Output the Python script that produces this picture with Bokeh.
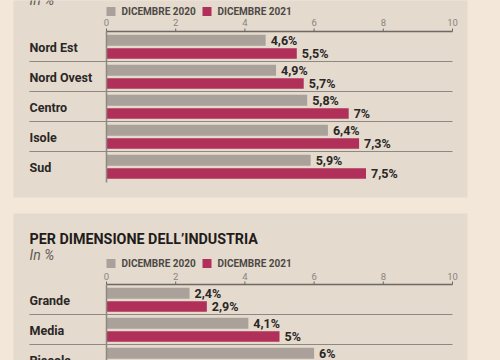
from bokeh.plotting import figure
from bokeh.embed import file_html
from bokeh.resources import INLINE
from bokeh.core.properties import value
from bokeh.models import Range1d

# ---------------- data ----------------
regions = ["Nord Est", "Nord Ovest", "Centro", "Isole", "Sud"]
regions_2020 = [4.6, 4.9, 5.8, 6.4, 5.9]
regions_2021 = [5.5, 5.7, 7.0, 7.3, 7.5]
sizes = ["Grande", "Media", "Piccola"]
sizes_2020 = [2.4, 4.1, 6.0]
sizes_2021 = [2.9, 5.0]          # Piccola 2021 is cut off in the picture
ticks = [0, 2, 4, 6, 8, 10]
series = ["DICEMBRE 2020", "DICEMBRE 2021"]
title2 = "PER DIMENSIONE DELL\u2019INDUSTRIA"
unit = "In %"

# ---------------- style / layout ----------------
PAGE = "#f2e7d9"
PANEL = "#e4dacd"
GRAY = "#aaa29a"
RED = "#b0305a"
DARK = "#2a2726"
FONT = value("Roboto")

W, H = 500, 360
OFF = 0
PX0, PXU = 106.0, 34.6


def X(sx):
    return (sx - PX0) / PXU


p = figure(width=W, height=H, output_backend="svg", toolbar_location=None,
           x_range=Range1d(X(OFF), X(OFF + W)), y_range=Range1d(OFF + H, OFF),
           x_axis_type=None, y_axis_type=None, min_border=0,
           background_fill_color=PAGE, border_fill_color=PAGE,
           outline_line_color=None)
p.grid.visible = False

# panels
p.quad(left=[X(13), X(13)], right=[X(467), X(467)], top=[-50, 213],
       bottom=[197, 500], fill_color=PANEL, line_color=None)


def fmt(v):
    return f"{v:g}".replace(".", ",") + "%"


def panel(axis_y, legend_y, tick_y, cats, v20, v21, vline_end):
    # legend
    p.rect(x=[X(110.5), X(206.5)], y=[legend_y, legend_y], width=9, height=9,
           width_units="screen", height_units="screen",
           fill_color=[GRAY, RED], line_color=None)
    p.text(x=[X(121), X(217)], y=[legend_y, legend_y], text=series,
           text_font=FONT, text_font_size="10px", text_font_style="bold",
           text_color="#4d4946", text_baseline="middle", text_align="left")
    # ticks
    p.text(x=ticks, y=[tick_y] * len(ticks), text=[str(t) for t in ticks],
           text_font=FONT, text_font_size="9.5px", text_color="#8a8580",
           text_baseline="middle", text_align="center")
    p.segment(x0=ticks, x1=ticks, y0=[axis_y - 3] * len(ticks),
              y1=[axis_y] * len(ticks), line_color="#6e6964", line_width=1)
    p.segment(x0=[ticks[0]], x1=[ticks[-1]], y0=[axis_y], y1=[axis_y],
              line_color="#6e6964", line_width=1.5)
    # rows
    n = len(cats)
    starts = [axis_y + 30 * i for i in range(n)]
    y20 = [s + 8.7 for s in starts]
    y21 = [s + 22 for s in starts[:len(v21)]]
    p.hbar(y=y20, left=0, right=v20, height=11, fill_color=GRAY, line_color=None)
    p.hbar(y=y21, left=0, right=v21, height=10.5, fill_color=RED, line_color=None)
    seps = [s + 30 for s in starts[:-1]]
    p.segment(x0=[X(29)] * len(seps), x1=[ticks[-1]] * len(seps), y0=seps, y1=seps,
              line_color="#8e8883", line_width=1)
    p.segment(x0=[0], x1=[0], y0=[axis_y], y1=[vline_end],
              line_color="#8e8883", line_width=1.5)
    p.text(x=[X(29)] * n, y=[s + 15.5 for s in starts], text=cats,
           text_font=FONT, text_font_size="12.5px", text_font_style="bold",
           text_color=DARK, text_baseline="middle", text_align="left")
    off = 5 / PXU
    p.text(x=[v + off for v in v20], y=y20, text=[fmt(v) for v in v20],
           text_font=FONT, text_font_size="12.5px", text_font_style="bold",
           text_color=DARK, text_baseline="middle", text_align="left")
    p.text(x=[v + off for v in v21], y=y21, text=[fmt(v) for v in v21],
           text_font=FONT, text_font_size="12.5px", text_font_style="bold",
           text_color=DARK, text_baseline="middle", text_align="left")


# first panel ("In %" subtitle is cut at the top, as in the reference)
p.text(x=[X(29)], y=[-1], text=[unit], text_font=FONT, text_font_size="14px",
       text_font_style="italic", text_color="#5f5a56", text_baseline="middle")
panel(31, 11, 22, regions, regions_2020, regions_2021, 182)

# second panel header
p.text(x=[X(29)], y=[238], text=[title2], text_font=FONT, text_font_size="14.3px",
       text_font_style="bold", text_color="#1f1c1b", text_baseline="middle")
p.text(x=[X(29)], y=[254], text=[unit], text_font=FONT, text_font_size="14px",
       text_font_style="italic", text_color="#5f5a56", text_baseline="middle")
panel(284, 263, 276, sizes, sizes_2020, sizes_2021, 400)

template = """{% block postamble %}<style>html, body { background: #f2e7d9; }</style>{% endblock %}"""
open("out.html", "w").write(file_html(p, INLINE, template=template))
